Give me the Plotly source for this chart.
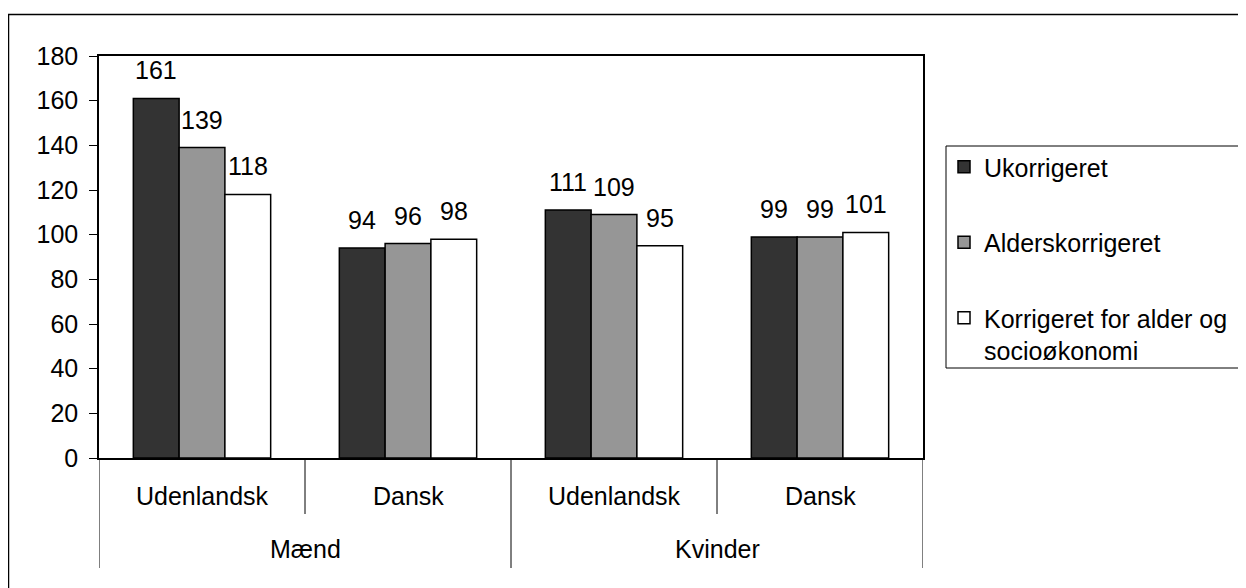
import plotly.graph_objects as go

groups = ["Mænd", "Mænd", "Kvinder", "Kvinder"]
subcats = ["Udenlandsk", "Dansk", "Udenlandsk", "Dansk"]
series_names = ["Ukorrigeret", "Alderskorrigeret", "Korrigeret for alder og<br>socioøkonomi"]
ukorrigeret = [161, 94, 111, 99]
alderskorrigeret = [139, 96, 109, 99]
korrigeret = [118, 98, 95, 101]
colors = ["#333333", "#969696", "#ffffff"]
yticks = [0, 20, 40, 60, 80, 100, 120, 140, 160, 180]

FONT = "Liberation Sans, Arial, sans-serif"
FS = 25

# page body has an 8px margin; the figure starts at (8, 8) in the window
OX, OY = 8, 8
W, H = 1246 - OX, 588 - OY
# plot-area geometry in window pixels (for paper conversions)
L, R, T, B = 99, 923, 56, 458
PW, PH = R - L, B - T
def px(xp):
    return (xp - L) / PW
def py(yp):
    return (B - yp) / PH

xpos = [i + 0.5 for i in range(len(subcats))]
values = [ukorrigeret, alderskorrigeret, korrigeret]

fig = go.Figure()
for name, vals, col in zip(series_names, values, colors):
    fig.add_trace(go.Bar(
        x=xpos, y=vals, name=name, legendgroup=name,
        marker=dict(color=col, line=dict(color="black", width=1.5)),
        hoverinfo="y",
    ))

bargap = 1 / 3
bw = (1 - bargap) / 3
annotations = []
for j, vals in enumerate(values):
    for i, v in enumerate(vals):
        annotations.append(dict(
            x=xpos[i] + (j - 1) * bw, y=v, xref="x", yref="y",
            text=str(v), showarrow=False, yanchor="bottom", yshift=12,
            font=dict(family=FONT, size=FS, color="black"),
        ))

# category labels
for i, s in enumerate(subcats):
    annotations.append(dict(
        x=xpos[i], y=py(496), xref="x", yref="paper", text=s,
        showarrow=False, yanchor="middle",
        font=dict(family=FONT, size=FS, color="black"),
    ))
group_names = []
for g in groups:
    if g not in group_names:
        group_names.append(g)
for k, g in enumerate(group_names):
    annotations.append(dict(
        x=2 * k + 1, y=py(549), xref="x", yref="paper", text=g,
        showarrow=False, yanchor="middle",
        font=dict(family=FONT, size=FS, color="black"),
    ))

shapes = []
# long dividers (group edges)
for xv in [0, 2, 4]:
    shapes.append(dict(type="line", xref="x", yref="paper", x0=xv, x1=xv,
                       y0=0, y1=py(568), line=dict(color="black", width=1)))
# short dividers (subcategory)
for xv in [1, 3]:
    shapes.append(dict(type="line", xref="x", yref="paper", x0=xv, x1=xv,
                       y0=0, y1=py(514), line=dict(color="black", width=1)))
# outer chart frame
shapes.append(dict(type="rect", xref="paper", yref="paper",
                   x0=px(8.5), x1=px(1260), y0=py(600), y1=py(14.5),
                   line=dict(color="black", width=1.5), layer="below"))
# legend frame
shapes.append(dict(type="rect", xref="paper", yref="paper",
                   x0=px(946), x1=px(1260), y0=py(368), y1=py(146),
                   line=dict(color="black", width=1), layer="below"))

fig.update_layout(
    width=W, height=H,
    margin=dict(l=L - OX, r=1246 - R, t=T - OY, b=588 - B),
    paper_bgcolor="white", plot_bgcolor="white",
    barmode="group", bargap=bargap, bargroupgap=0,
    font=dict(family=FONT, size=FS, color="black"),
    showlegend=True,
    legend=dict(x=px(944), y=py(144), xanchor="left", yanchor="top",
                bgcolor="rgba(0,0,0,0)", borderwidth=0,
                tracegroupgap=40, valign="top",
                font=dict(family=FONT, size=FS, color="black")),
    xaxis=dict(range=[0, 4], showticklabels=False, ticks="", showgrid=False,
               zeroline=False, showline=True, linecolor="black", linewidth=1.5,
               mirror=True, fixedrange=True),
    yaxis=dict(range=[0, 180], tickvals=yticks, ticks="outside", ticklen=8,
               tickcolor="black", tickwidth=1, showgrid=False, zeroline=False,
               showline=True, linecolor="black", linewidth=1.5, mirror=True,
               tickfont=dict(family=FONT, size=FS, color="black"),
               ticklabelstandoff=6, fixedrange=True),
    annotations=annotations, shapes=shapes,
)

fig.write_html("out.html")
